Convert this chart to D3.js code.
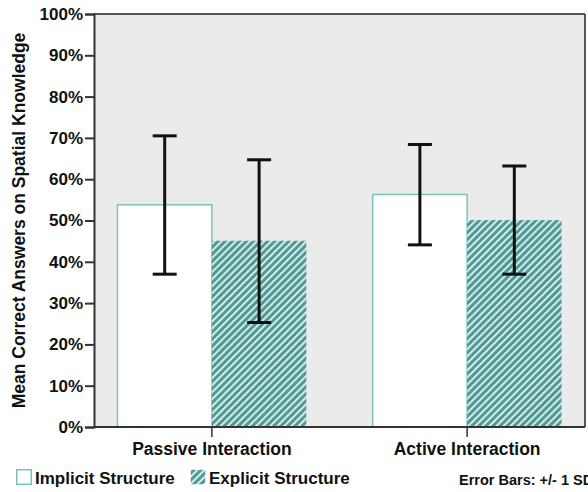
<!DOCTYPE html>
<html>
<head>
<meta charset="utf-8">
<script src="https://cdn.jsdelivr.net/npm/d3@7"></script>
<style>
body { margin: 0; background: #fff; }
text { font-family: "Liberation Sans", Arial, sans-serif; }
</style>
</head>
<body>
<svg id="chart" width="588" height="492"></svg>
<script>
var categories = ["Passive Interaction", "Active Interaction"];
var series = ["Implicit Structure", "Explicit Structure"];
var means = [[53.8, 45.1], [56.3, 50.1]];
var errLow = [[37.0, 25.3], [44.1, 37.0]];
var errHigh = [[70.5, 64.7], [68.4, 63.2]];
var yTicks = [0, 10, 20, 30, 40, 50, 60, 70, 80, 90, 100];

var margin = {top: 14, right: 3, bottom: 65, left: 94};
var width = 588 - margin.left - margin.right;
var height = 492 - margin.top - margin.bottom;
var teal = "#4d9b94";

var svg = d3.select("#chart");

var defs = svg.append("defs");
var pat = defs.append("pattern")
    .attr("id", "hatch")
    .attr("patternUnits", "userSpaceOnUse")
    .attr("width", 5).attr("height", 5)
    .attr("patternTransform", "rotate(45)");
pat.append("rect").attr("width", 5).attr("height", 5).attr("fill", teal);
pat.append("rect").attr("x", 0).attr("width", 1.8).attr("height", 5).attr("fill", "#e6f3f1");

var g = svg.append("g").attr("transform", "translate(" + margin.left + "," + margin.top + ")");

var y = d3.scaleLinear().domain([0, 100]).range([height, 0]);
var x0 = d3.scaleBand().domain(categories).range([0, width]).paddingInner(0.26).paddingOuter(0.092);
var x1 = d3.scaleBand().domain(series).range([0, x0.bandwidth()]);

g.append("rect")
    .attr("width", width).attr("height", height)
    .attr("fill", "#ebebeb");

var rows = [];
categories.forEach(function(c, i) {
  series.forEach(function(s, j) {
    rows.push({cat: c, ser: s, j: j, v: means[i][j], lo: errLow[i][j], hi: errHigh[i][j]});
  });
});

g.selectAll(".bar").data(rows).enter().append("rect")
    .attr("class", "bar")
    .attr("x", function(d) { return x0(d.cat) + x1(d.ser); })
    .attr("y", function(d) { return y(d.v); })
    .attr("width", x1.bandwidth())
    .attr("height", function(d) { return height - y(d.v); })
    .attr("fill", function(d) { return d.j === 0 ? "#fff" : "url(#hatch)"; })
    .attr("stroke", function(d) { return d.j === 0 ? "#7cc2bb" : "none"; })
    .attr("stroke-width", 1.5);

var eb = g.selectAll(".err").data(rows).enter().append("g").attr("class", "err")
    .attr("transform", function(d) { return "translate(" + (x0(d.cat) + x1(d.ser) + x1.bandwidth() / 2) + ",0)"; });
eb.append("line")
    .attr("y1", function(d) { return y(d.lo); })
    .attr("y2", function(d) { return y(d.hi); })
    .attr("stroke", "#111").attr("stroke-width", 3);
eb.append("line")
    .attr("x1", -12).attr("x2", 12)
    .attr("y1", function(d) { return y(d.hi); })
    .attr("y2", function(d) { return y(d.hi); })
    .attr("stroke", "#111").attr("stroke-width", 3);
eb.append("line")
    .attr("x1", -12).attr("x2", 12)
    .attr("y1", function(d) { return y(d.lo); })
    .attr("y2", function(d) { return y(d.lo); })
    .attr("stroke", "#111").attr("stroke-width", 3);

// frame
g.append("line").attr("x1", 0).attr("x2", width).attr("y1", 0).attr("y2", 0)
    .attr("stroke", "#555").attr("stroke-width", 2);
g.append("line").attr("x1", width).attr("x2", width).attr("y1", 0).attr("y2", height)
    .attr("stroke", "#555").attr("stroke-width", 2);

var yAxis = g.append("g")
    .call(d3.axisLeft(y).tickValues(yTicks).tickSize(9).tickPadding(2)
        .tickFormat(function(d) { return d + "%"; }));
yAxis.select(".domain").attr("stroke", "#333").attr("stroke-width", 2);
yAxis.selectAll(".tick line").attr("stroke", "#333").attr("stroke-width", 2);
yAxis.selectAll("text").attr("font-size", 17).attr("font-weight", "bold").attr("fill", "#111")
    .attr("font-family", "Liberation Sans, Arial, sans-serif");

var xAxis = g.append("g").attr("transform", "translate(0," + height + ")")
    .call(d3.axisBottom(x0).tickSize(10).tickPadding(6));
xAxis.select(".domain").attr("stroke", "#333").attr("stroke-width", 2).attr("d", "M0,0H" + width);
xAxis.selectAll(".tick line").attr("stroke", "#333").attr("stroke-width", 1.5);
xAxis.selectAll("text").attr("font-size", 17.5).attr("font-weight", "bold").attr("fill", "#111")
    .attr("font-family", "Liberation Sans, Arial, sans-serif");

svg.append("text")
    .attr("transform", "translate(24.5," + (margin.top + height / 2) + ") rotate(-90)")
    .attr("text-anchor", "middle")
    .attr("font-size", 17.5).attr("font-weight", "bold").attr("fill", "#111")
    .text("Mean Correct Answers on Spatial Knowledge");

// legend
var legend = svg.append("g").attr("transform", "translate(16,469)");
var lx = [0, 174];
series.forEach(function(s, j) {
  var lg = legend.append("g").attr("transform", "translate(" + lx[j] + ",0)");
  lg.append("rect").attr("x", 0.75).attr("y", 0.75).attr("width", 14.5).attr("height", 14.5)
      .attr("fill", j === 0 ? "#fff" : "url(#hatch)")
      .attr("stroke", j === 0 ? "#7cc2bb" : "none").attr("stroke-width", 1.5);
  lg.append("text").attr("x", 19).attr("y", 15)
      .attr("font-size", 17).attr("font-weight", "bold").attr("fill", "#111")
      .text(s);
});

svg.append("text")
    .attr("x", 459).attr("y", 485)
    .attr("font-size", 14.5).attr("font-weight", "bold").attr("fill", "#111")
    .text("Error Bars: +/- 1 SD");
</script>
</body>
</html>
